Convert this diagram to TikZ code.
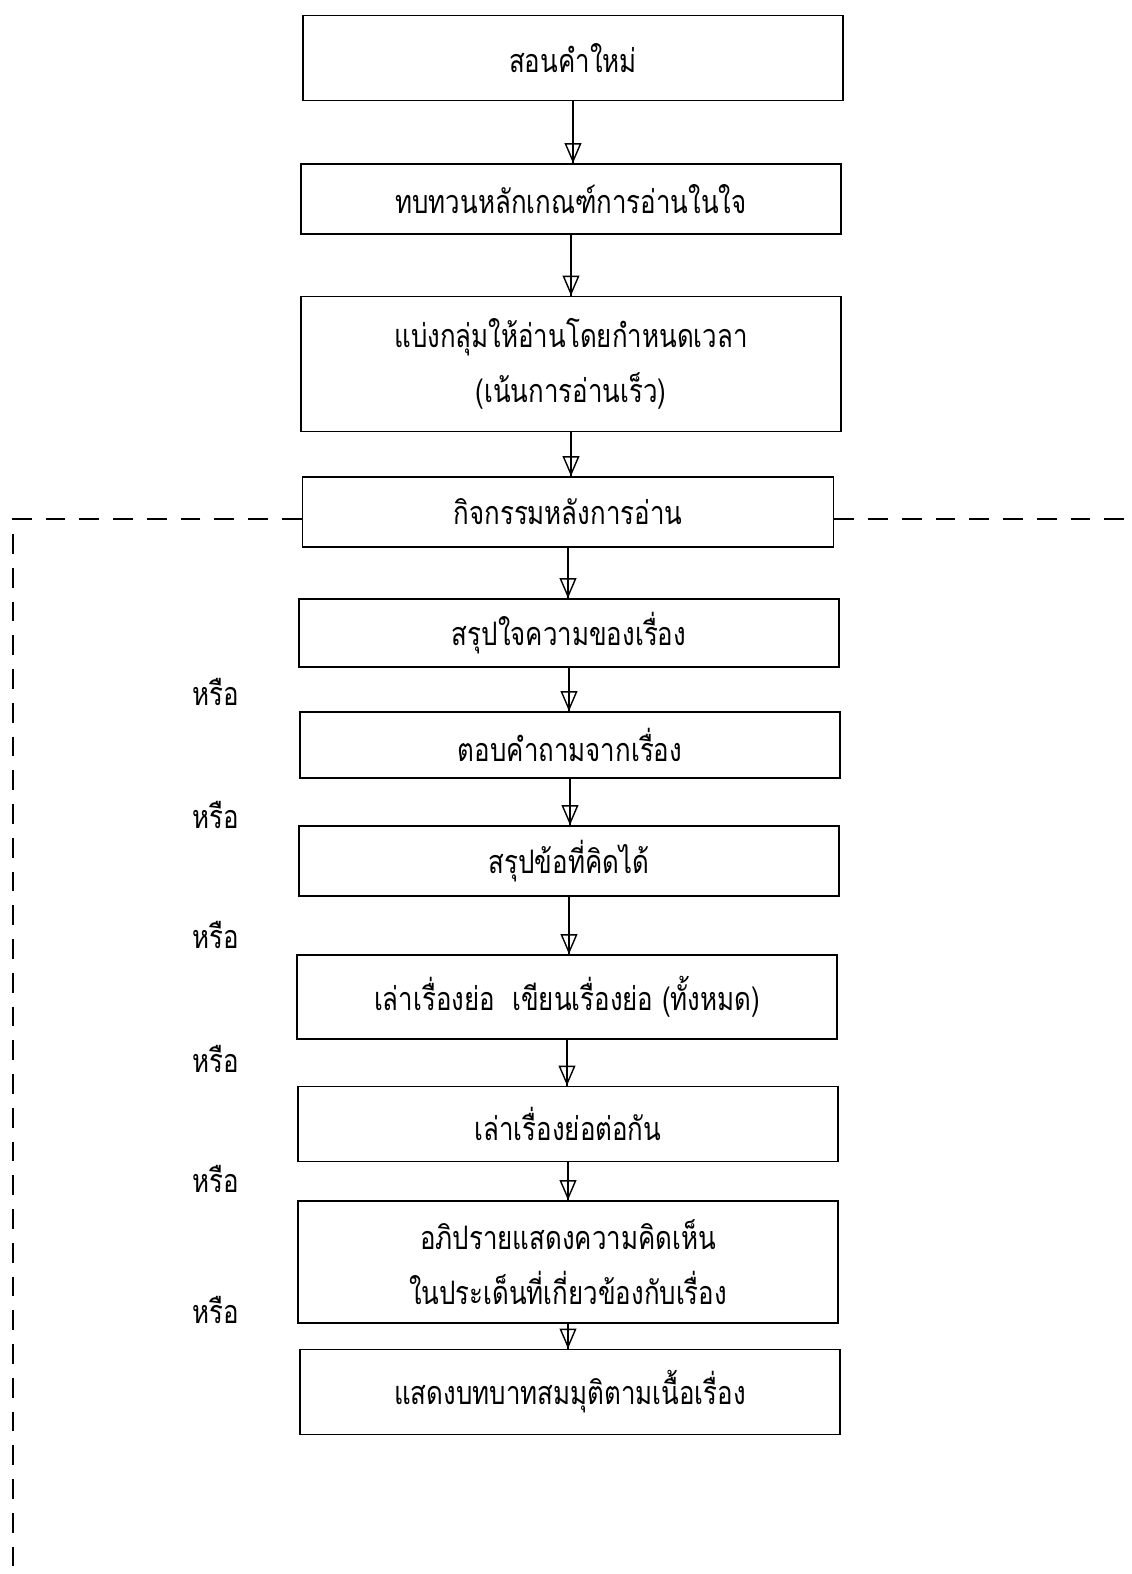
\documentclass[tikz,border=0pt]{standalone}
\usepackage{fontspec}
\newfontfamily\thaifont[Script=Thai, FakeStretch=0.8]{Loma}
\usepackage{tikz}
\usetikzlibrary{arrows.meta}

\tikzset{
    stepbox/.style={draw, line width=1.2pt, minimum width=13.5cm, align=center,
        font=\thaifont\fontsize{23}{39}\selectfont},
    flow/.style={line width=1pt, -{Triangle[open, length=0.5cm, width=0.42cm, line width=1pt]},
        postaction={draw, -}},
    orlabel/.style={font=\thaifont\fontsize{23}{28}\selectfont},
    frame/.style={line width=1.3pt, dash pattern=on 14pt off 10pt}
}

\begin{document}
\begin{tikzpicture}[x=0.025cm, y=-0.025cm]
    \useasboundingbox (0,0) rectangle (1132,1574);

    % main sequence
    \node[stepbox, minimum height=2.125cm] (teach) at (573,58) {สอนคำใหม่};
    \node[stepbox, minimum height=1.75cm] (review) at (571,199) {ทบทวนหลักเกณฑ์การอ่านในใจ};
    \node[stepbox, minimum height=3.375cm] (group) at (571,364) {แบ่งกลุ่มให้อ่านโดยกำหนดเวลา\\(เน้นการอ่านเร็ว)};
    \node[stepbox, minimum height=1.75cm, minimum width=13.275cm] (after) at (568,512) {กิจกรรมหลังการอ่าน};

    % activities after reading
    \node[stepbox, minimum height=1.7cm] (sum) at (569,633) {สรุปใจความของเรื่อง};
    \node[stepbox, minimum height=1.65cm] (answer) at (570,745) {ตอบคำถามจากเรื่อง};
    \node[stepbox, minimum height=1.75cm] (idea) at (569,861) {สรุปข้อที่คิดได้};
    \node[stepbox, minimum height=2.1cm] (retell) at (567,997) {เล่าเรื่องย่อ \ เขียนเรื่องย่อ (ทั้งหมด)};
    \node[stepbox, minimum height=1.875cm] (chain) at (568,1124) {เล่าเรื่องย่อต่อกัน};
    \node[stepbox, minimum height=3.05cm] (discuss) at (568,1262) {อภิปรายแสดงความคิดเห็น\\ในประเด็นที่เกี่ยวข้องกับเรื่อง};
    \node[stepbox, minimum height=2.125cm] (role) at (570,1392) {แสดงบทบาทสมมุติตามเนื้อเรื่อง};

    \foreach \a/\b in {teach/review, review/group, group/after, after/sum, sum/answer,
                       answer/idea, idea/retell, retell/chain, chain/discuss, discuss/role}
        \draw[flow] (\a.south) -- (\a.south |- \b.north);

    % "or" labels
    \foreach \y/\n in {692/1, 815/2, 935/3, 1059/4, 1179/5, 1310/6}
        \node[orlabel] (or\n) at (216,\y) {หรือ};

    % dashed frame
    \coordinate (cornerL) at (13,519);
    \coordinate (edgeR) at (1132,519);
    \coordinate (bottomL) at (13,1574);
    \draw[frame] (after.west |- cornerL) -- (cornerL) -- (bottomL);
    \draw[frame] (after.east |- edgeR) -- (edgeR);
\end{tikzpicture}
\end{document}
